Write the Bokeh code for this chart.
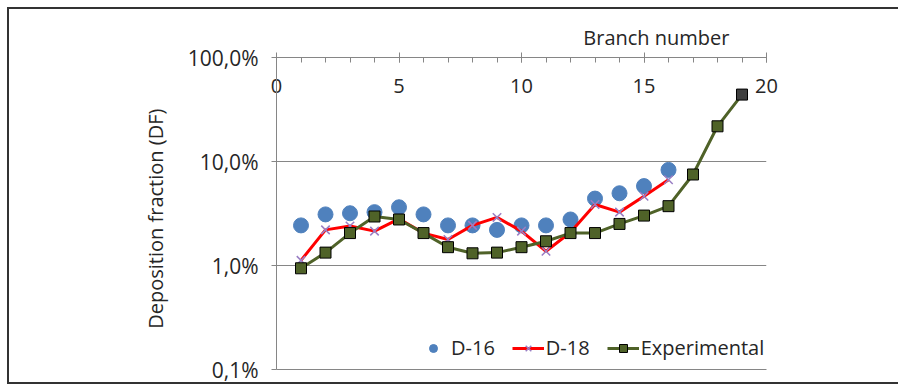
from bokeh.plotting import figure
from bokeh.models import (FixedTicker, SingleIntervalTicker, Legend, LegendItem, Range1d,
                          CustomJSTickFormatter, Title, LinearAxis)
from bokeh.embed import file_html
from bokeh.resources import INLINE

# ---- data (deposition fraction, %) ----
branch_d16 = [1, 2, 3, 4, 5, 6, 7, 8, 9, 10, 11, 12, 13, 14, 15, 16]
d16 = [2.43, 3.1, 3.18, 3.26, 3.63, 3.1, 2.43, 2.43, 2.2, 2.43, 2.43, 2.77, 4.4, 4.95, 5.8, 8.3]

branch_d18 = [1, 2, 3, 4, 5, 6, 7, 8, 9, 10, 11, 12, 13, 14, 15, 16]
d18 = [1.12, 2.2, 2.4, 2.14, 2.81, 2.05, 1.78, 2.43, 2.9, 2.14, 1.37, 2.09, 3.86, 3.26, 4.64, 6.67]

branch_exp = [1, 2, 3, 4, 5, 6, 7, 8, 9, 10, 11, 12, 13, 14, 15, 16, 17, 18, 19]
experimental = [0.94, 1.33, 2.05, 2.96, 2.77, 2.05, 1.5, 1.31, 1.33, 1.5, 1.71, 2.05, 2.05, 2.51,
                3.02, 3.72, 7.5, 21.8, 44.0]

y_ticks = [0.1, 1, 10, 100]
y_tick_labels = ["0,1%", "1,0%", "10,0%", "100,0%"]

FONT = "Open Sans"
TXT = "#262626"
GRID = "#868686"
FRAME_LINE = "#333333"

p = figure(width=898, height=385, y_axis_type="log", x_axis_location="above",
           x_range=Range1d(0, 20), y_range=Range1d(0.1, 100),
           output_backend="svg", toolbar_location=None,
           min_border_left=276, min_border_top=57, min_border_bottom=16, min_border_right=132)
p.outline_line_color = None
p.background_fill_color = "white"
p.border_fill_color = None
# outer chart border (left, top, bottom edges) painted behind the transparent canvas
p.styles = {
    "background-color": "white",
    "background-image": (f"linear-gradient({FRAME_LINE},{FRAME_LINE}), "
                         f"linear-gradient({FRAME_LINE},{FRAME_LINE}), "
                         f"linear-gradient({FRAME_LINE},{FRAME_LINE})"),
    "background-position": "7px 7px, 7px 7px, 7px 382px",
    "background-size": "891px 2px, 2px 377px, 891px 2px",
    "background-repeat": "no-repeat",
}

# x axis (top)
xa = p.xaxis[0]
xa.ticker = SingleIntervalTicker(interval=5, num_minor_ticks=5)
xa.axis_line_color = GRID
xa.major_tick_line_color = GRID
xa.minor_tick_line_color = GRID
xa.major_tick_in = 5
xa.major_tick_out = 5
xa.minor_tick_in = 5
xa.minor_tick_out = 0
xa.major_label_standoff = -40
xa.major_label_text_font = FONT
xa.major_label_text_font_size = "20px"
xa.major_label_text_color = TXT

# bottom line of the plot area (no ticks, no labels)
bottom_line = LinearAxis(ticker=FixedTicker(ticks=[]), axis_line_color=GRID,
                         major_tick_line_color=None, minor_tick_line_color=None)
p.add_layout(bottom_line, "below")

# y axis (left)
ya = p.yaxis[0]
ya.ticker = FixedTicker(ticks=y_ticks)
ya.formatter = CustomJSTickFormatter(args=dict(tvals=y_ticks, tlabels=y_tick_labels), code="""
for (let i = 0; i < tvals.length; i++) {
  if (Math.abs(Math.log10(tick) - Math.log10(tvals[i])) < 1e-6) return tlabels[i];
}
return "";
""")
ya.axis_line_color = GRID
ya.major_tick_line_color = GRID
ya.major_tick_in = 0
ya.major_tick_out = 5
ya.minor_tick_line_color = None
ya.major_label_standoff = 13
ya.major_label_text_font = FONT
ya.major_label_text_font_size = "21px"
ya.major_label_text_color = TXT
ya.axis_label = "Deposition  fraction  (DF)"
ya.axis_label_text_font = FONT
ya.axis_label_text_font_size = "20px"
ya.axis_label_text_font_style = "normal"
ya.axis_label_text_color = TXT
ya.axis_label_standoff = 16

p.xgrid.grid_line_color = None
p.ygrid.ticker = FixedTicker(ticks=y_ticks)
p.ygrid.grid_line_color = GRID
p.ygrid.grid_line_width = 1

# series
r16 = p.scatter(branch_d16, d16, marker="circle", size=15, fill_color="#4F81BD", line_color="#4F81BD")

r18l = p.line(branch_d18, d18, line_color="#FF0000", line_width=3)
r18m = p.scatter(branch_d18, d18, marker="x", size=12, line_color="#9A7FC4", line_width=1.5)

exp_fill = ["#4F6228"] * (len(branch_exp) - 1) + ["#404040"]
rel = p.line(branch_exp, experimental, line_color="#4F6228", line_width=3)
rem = p.scatter(branch_exp, experimental, marker="square", size=11, fill_color=exp_fill,
                line_color="#000000", line_width=1)

legend = Legend(items=[
    LegendItem(label="D-16", renderers=[r16]),
    LegendItem(label="D-18", renderers=[r18l, r18m]),
    LegendItem(label="Experimental", renderers=[rel, rem]),
], orientation="horizontal", location=(141, 8))
legend.border_line_color = None
legend.background_fill_alpha = 0
legend.padding = 0
legend.margin = 0
legend.spacing = 17
legend.glyph_width = 32
legend.glyph_height = 20
legend.label_height = 20
legend.label_standoff = 2
legend.label_text_font = FONT
legend.label_text_font_size = "20px"
legend.label_text_color = TXT
p.add_layout(legend, "center")

p.add_layout(Title(text="Branch number", align="right", offset=37, text_font=FONT,
                   text_font_size="20px", text_font_style="normal", text_color=TXT,
                   standoff=13), "above")

open("out.html", "w").write(file_html(p, INLINE))
